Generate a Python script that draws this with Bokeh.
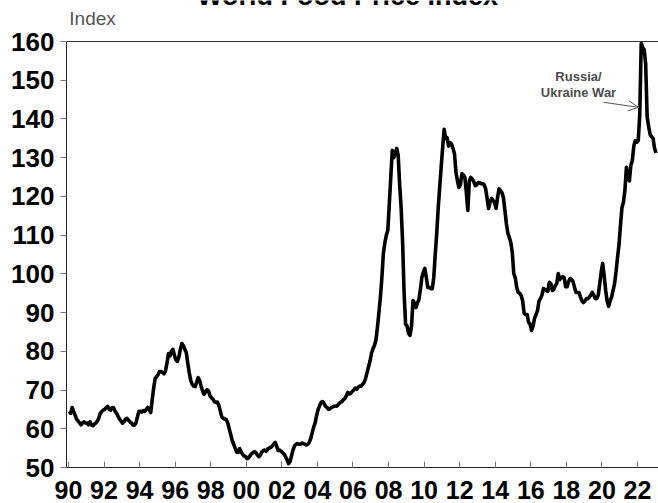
from bokeh.plotting import figure
from bokeh.models import Range1d, FixedTicker, Span, Label, Arrow, OpenHead
from bokeh.core.properties import value
from bokeh.embed import file_html
from bokeh.resources import INLINE

# FAO World Food Price Index, monthly, Jan 1990 - Jan 2023
fpi_1990s = [
    64.5, 64.0, 65.5, 64.5, 63.5, 62.5, 62.0, 61.5, 61.0, 61.5, 61.8, 61.5,
    61.5, 61.0, 61.8, 61.0, 60.8, 61.2, 61.5, 62.0, 62.8, 64.0, 64.5, 64.8,
    65.0, 65.5, 65.8, 65.0, 64.8, 65.5, 65.4, 64.5, 64.0, 63.2, 62.5, 62.0,
    61.4, 61.8, 62.5, 62.7, 62.2, 61.8, 61.5, 61.0, 60.9, 61.5, 63.0, 64.5,
    64.5, 64.3, 64.7, 64.5, 65.0, 65.5, 65.0, 64.2, 67.5, 70.5, 73.0, 73.5,
    74.0, 74.8, 74.8, 74.5, 74.2, 75.0, 77.0, 79.4, 78.8, 80.0, 80.5, 79.0,
    77.8, 77.4, 78.5, 80.5, 82.0, 81.5, 80.5, 79.7, 77.0, 74.5, 72.5, 71.5,
    71.0, 70.9, 72.0, 73.2, 72.5, 71.0, 69.8, 68.9, 69.5, 70.1, 69.8, 68.5,
    68.0, 67.6, 67.0, 66.8, 66.9, 66.0, 64.5, 63.0, 62.7, 62.5, 62.4, 61.5,
    60.0, 58.5, 57.0, 56.0, 55.0, 54.0, 53.9, 54.9, 54.0, 53.4, 53.0, 52.8,
]
fpi_2000s = [
    52.3, 52.5, 53.0, 53.5, 53.8, 54.1, 53.8, 53.2, 52.8, 53.2, 54.0, 54.4,
    54.5, 54.2, 54.8, 55.0, 55.2, 55.5, 56.0, 56.5, 55.5, 54.4, 54.5, 54.2,
    53.8, 53.4, 52.8, 52.0, 51.0, 51.5, 53.0, 54.5, 55.5, 56.0, 56.2, 56.0,
    56.0, 56.3, 56.2, 56.0, 55.8, 56.0, 56.5, 57.5, 59.0, 60.5, 61.6, 63.5,
    65.0, 66.0, 66.8, 67.0, 66.5, 65.8, 65.5, 65.0, 65.2, 65.5, 65.7, 65.8,
    65.8, 66.0, 66.5, 66.8, 67.0, 67.5, 67.8, 68.5, 69.4, 69.0, 69.2, 69.6,
    70.0, 70.5, 70.2, 70.7, 71.0, 71.0, 71.5, 72.0, 73.0, 74.5, 76.0, 77.5,
    79.5, 80.7, 81.5, 83.0, 86.2, 90.0, 94.0, 99.0, 105.3, 108.0, 110.0, 111.2,
    118.0, 125.0, 131.9, 130.0, 131.1, 132.4, 130.6, 123.0, 117.0, 108.0, 95.0, 87.0,
    86.5, 84.6, 84.1, 86.5, 93.1, 92.5, 91.3, 92.5, 93.4, 96.0, 99.1, 100.5,
]
fpi_2010s = [
    101.4, 99.0, 96.5, 96.5, 96.2, 96.2, 99.0, 105.0, 110.4, 117.0, 122.3, 127.5,
    132.6, 137.3, 135.0, 135.2, 133.0, 133.9, 133.5, 132.4, 131.0, 126.2, 124.0, 122.3,
    123.0, 125.9, 125.5, 124.9, 121.0, 116.4, 124.0, 124.9, 124.5, 123.8, 122.8, 123.0,
    123.6, 123.5, 123.3, 123.3, 123.0, 122.0, 119.5, 116.9, 118.5, 119.5, 119.0, 118.5,
    116.9, 119.5, 122.0, 121.5, 121.0, 119.7, 116.5, 113.0, 110.5, 109.4, 108.1, 105.5,
    100.1, 99.0, 96.5, 95.2, 95.0, 94.4, 93.0, 89.8, 89.5, 89.5, 87.5, 87.0,
    85.4, 86.5, 88.5, 89.5, 90.5, 93.0, 93.6, 94.5, 96.2, 96.0, 95.7, 95.5,
    97.8, 97.5, 95.7, 96.0, 97.0, 97.5, 100.1, 98.5, 99.0, 99.3, 99.0, 96.7,
    96.7, 98.0, 98.8, 98.5, 98.0, 96.5, 95.2, 95.2, 95.2, 94.0, 93.0, 92.6,
    93.0, 93.6, 93.6, 94.0, 94.5, 95.2, 94.5, 93.6, 93.6, 94.5, 97.5, 100.5,
]
fpi_2020s = [
    102.7, 99.5, 95.7, 93.0, 91.6, 93.0, 94.0, 95.7, 97.5, 100.5, 104.2, 107.5,
    112.5, 117.1, 118.5, 121.5, 127.5, 124.9, 124.0, 128.0, 129.3, 133.0, 134.4, 134.0,
    134.4, 141.0, 159.5, 158.4, 157.9, 154.3, 140.6, 138.0, 136.0, 135.4, 135.0, 132.4,
    131.2,
]
start_year = 1990

tick_years = list(range(1990, 2023, 2))
tick_labels = ["90", "92", "94", "96", "98", "00", "02", "04", "06",
               "08", "10", "12", "14", "16", "18", "20", "22"]
y_ticks = list(range(50, 161, 10))
y_min, y_max = 50, 160

title_text = "World Food Price Index"
unit_text = "Index"
note_lines = ["Russia/", "Ukraine War"]

values = fpi_1990s + fpi_2000s + fpi_2010s + fpi_2020s
dates = [start_year + (i + 0.5) / 12 for i in range(len(values))]

FONT = "Liberation Sans"
W, H = 658, 503
LEFT, BOTTOM, TOP_GAP = 66, 36, 41       # pixel layout of the plotting area
px_per_unit = (H - BOTTOM - TOP_GAP) / (y_max - y_min)
y_top = y_max + TOP_GAP / px_per_unit     # frame reaches the top edge; header lives in it
BASE_SHIFT = 0.37                         # rendered baseline sits this many em below anchor


def px_to_y(px_from_top, font_px=0):
    """Screen row (from top) of a text baseline -> data y (with baseline compensation)."""
    return y_max + (TOP_GAP - (px_from_top - BASE_SHIFT * font_px)) / px_per_unit


p = figure(width=W, height=H, output_backend="svg", toolbar_location=None,
           title=None,
           x_range=Range1d(1989.89, 2023.18), y_range=Range1d(y_min, y_top),
           min_border_left=LEFT, min_border_right=0, min_border_top=0,
           min_border_bottom=BOTTOM)
p.outline_line_color = None
p.grid.visible = False
p.background_fill_color = "white"
p.border_fill_color = "white"

p.line(dates, values, line_color="black", line_width=3.6, line_join="round")

# top frame line of the chart area
p.add_layout(Span(location=y_max, dimension="width", line_color="#333333", line_width=1))

# header: title partly cut off by the top edge, as in the original
p.text(x=[2005.69], y=[px_to_y(5, 27)], text=[title_text], text_font=value(FONT),
       text_font_size="27px", text_font_style="bold", text_color="black",
       text_align="center", text_baseline="alphabetic")
p.text(x=[1990.05], y=[px_to_y(25, 19)], text=[unit_text], text_font=value(FONT),
       text_font_size="19px", text_color="#555555",
       text_align="left", text_baseline="alphabetic")

xa = p.xaxis[0]
xa.ticker = FixedTicker(ticks=tick_years)
xa.major_label_overrides = {y: l for y, l in zip(tick_years, tick_labels)}
xa.major_tick_in = 6
xa.major_tick_out = 0
xa.minor_tick_line_color = None
xa.axis_line_color = "#222222"
xa.major_tick_line_color = "#777777"
xa.major_label_text_font = FONT
xa.major_label_text_font_size = "25px"
xa.major_label_text_font_style = "bold"
xa.major_label_text_color = "black"
xa.major_label_standoff = 13
xa.major_label_text_line_height = 0.7

ya = p.yaxis[0]
ya.ticker = FixedTicker(ticks=y_ticks)
ya.bounds = (y_min, y_max)
ya.major_tick_in = 0
ya.major_tick_out = 6
ya.minor_tick_line_color = None
ya.axis_line_color = "#222222"
ya.major_tick_line_color = "#777777"
ya.major_label_text_font = FONT
ya.major_label_text_font_size = "26px"
ya.major_label_text_font_style = "bold"
ya.major_label_text_color = "black"
ya.major_label_standoff = 6

# annotation
p.add_layout(Label(x=2018.68, y=px_to_y(80.5, 13), text=note_lines[0], text_font=FONT,
                   text_font_size="13px", text_font_style="bold",
                   text_color="#4d4d4d", text_align="center",
                   text_baseline="alphabetic"))
p.add_layout(Label(x=2018.68, y=px_to_y(97, 13), text=note_lines[1], text_font=FONT,
                   text_font_size="13px", text_font_style="bold",
                   text_color="#4d4d4d", text_align="center",
                   text_baseline="alphabetic"))
p.add_layout(Arrow(end=OpenHead(size=10, line_color="#555555", line_width=1),
                   x_start=2020.1, y_start=144.3, x_end=2022.05, y_end=143.0,
                   line_color="#555555", line_width=1))

open("out.html", "w").write(file_html(p, INLINE))
